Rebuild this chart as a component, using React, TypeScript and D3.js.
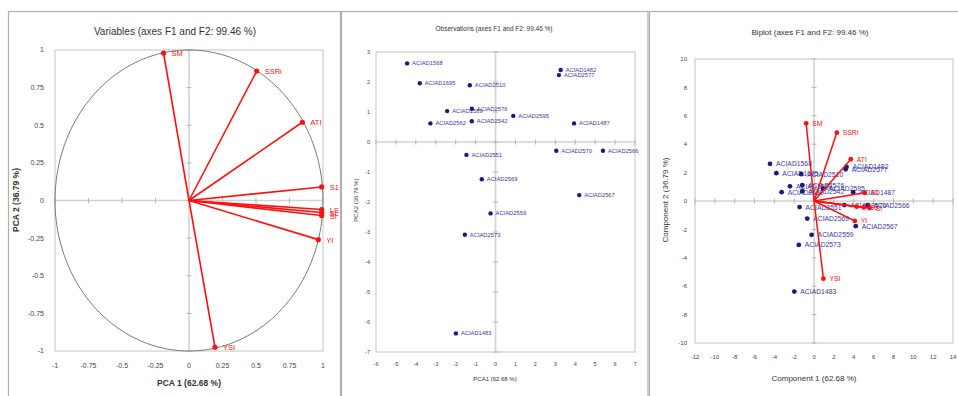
import React from "react";
import * as d3 from "d3";

// ---------- data ----------
const varNames = ["SM", "SSRi", "ATI", "S1", "LS", "SL", "SI", "YI", "YSI"];
const varF1 = [-0.19, 0.505, 0.846, 0.99, 0.99, 0.99, 0.99, 0.965, 0.194];
const varF2 = [0.98, 0.86, 0.52, 0.09, -0.06, -0.08, -0.1, -0.26, -0.975];

const obsNames = [
  "ACIAD1568", "ACIAD1695", "ACIAD2510", "ACIAD1589", "ACIAD2576", "ACIAD2562",
  "ACIAD2542", "ACIAD2595", "ACIAD1482", "ACIAD2577", "ACIAD1487", "ACIAD2570",
  "ACIAD2566", "ACIAD2551", "ACIAD2569", "ACIAD2567", "ACIAD2559", "ACIAD2573",
  "ACIAD1483",
];
const obsF1 = [-4.44, -3.8, -1.29, -2.43, -1.19, -3.27, -1.19, 0.89, 3.27, 3.18, 3.94, 3.05, 5.39, -1.46, -0.69, 4.2, -0.25, -1.54, -1.99];
const obsF2 = [2.62, 1.96, 1.89, 1.03, 1.11, 0.62, 0.69, 0.87, 2.4, 2.23, 0.62, -0.29, -0.29, -0.43, -1.24, -1.77, -2.38, -3.09, -6.38];

// biplot vector ends
const bipF1 = [-0.8, 2.29, 3.7, 5.1, 4.3, 5.0, 5.6, 4.1, 0.94];
const bipF2 = [5.47, 4.81, 2.94, 0.58, -0.4, -0.45, -0.5, -1.4, -5.47];

const ticks1 = [-1, -0.75, -0.5, -0.25, 0, 0.25, 0.5, 0.75, 1];
const ticks2X = [-6, -5, -4, -3, -2, -1, 0, 1, 2, 3, 4, 5, 6, 7];
const ticks2Y = [-7, -6, -5, -4, -3, -2, -1, 0, 1, 2, 3];
const ticks3X = [-12, -10, -8, -6, -4, -2, 0, 2, 4, 6, 8, 10, 12, 14];
const ticks3Y = [-10, -8, -6, -4, -2, 0, 2, 4, 6, 8, 10];

// ---------- style ----------
const FONT = "'Liberation Sans', Arial, sans-serif";
const RED = "#ff1010";
const NAVY = "#1a1a80";
const GRID = "#d2d2d2";
const FRAME = "#c4c4c4";
const TXT = "#333";

type AxisProps = {
  x: d3.ScaleLinear<number, number>;
  y: d3.ScaleLinear<number, number>;
  xt: number[];
  yt: number[];
  fs: number;
  xLabY: number;
  yLabX: number;
};

function Axes({ x, y, xt, yt, fs, xLabY, yLabX }: AxisProps) {
  const [l, r] = x.range();
  const [b, t] = y.range();
  return (
    <g>
      <rect x={l} y={t} width={r - l} height={b - t} fill="white" stroke={FRAME} strokeWidth={1} />
      <line x1={l} x2={r} y1={y(0)} y2={y(0)} stroke={GRID} strokeWidth={1.6} />
      <line x1={x(0)} x2={x(0)} y1={t} y2={b} stroke={GRID} strokeWidth={1.6} />
      {xt.map((v) => (
        <g key={"xt" + v}>
          <line x1={x(v)} x2={x(v)} y1={y(0) - 2.5} y2={y(0) + 2.5} stroke="#b5b5b5" strokeWidth={1} />
          <text x={x(v)} y={xLabY} fontSize={fs} textAnchor="middle" fill="#444" fontFamily={FONT}>
            {String(v)}
          </text>
        </g>
      ))}
      {yt.map((v) => (
        <g key={"yt" + v}>
          <line x1={x(0) - 2.5} x2={x(0) + 2.5} y1={y(v)} y2={y(v)} stroke="#b5b5b5" strokeWidth={1} />
          <text x={yLabX} y={y(v) + fs * 0.35} fontSize={fs} textAnchor="end" fill="#444" fontFamily={FONT}>
            {String(v)}
          </text>
        </g>
      ))}
    </g>
  );
}

export default function App() {
  // Panel 1: variables
  const x1 = d3.scaleLinear().domain([-1, 1]).range([55, 323]);
  const y1 = d3.scaleLinear().domain([-1, 1]).range([351, 50]);
  // Panel 2: observations
  const x2 = d3.scaleLinear().domain([-6, 7]).range([376, 635]);
  const y2 = d3.scaleLinear().domain([-7, 3]).range([352, 52]);
  // Panel 3: biplot
  const x3 = d3.scaleLinear().domain([-12, 14]).range([695, 953]);
  const y3 = d3.scaleLinear().domain([-10, 10]).range([343, 59]);

  const circle = d3.range(0, 361, 2).map((a) => [Math.cos((a * Math.PI) / 180), Math.sin((a * Math.PI) / 180)]);
  const circlePath = d3.line<number[]>().x((d) => x1(d[0])).y((d) => y1(d[1]))(circle) || "";

  return (
    <svg width={958} height={396} style={{ position: "absolute", left: 0, top: 0, background: "white" }}>
      <rect x={0} y={0} width={958} height={396} fill="white" />
      {/* panel frames */}
      <rect x={8.5} y={11.5} width={332} height={400} fill="white" stroke="#b0b0b0" strokeWidth={1.2} />
      <rect x={341.5} y={11.5} width={306.5} height={400} fill="white" stroke="#b0b0b0" strokeWidth={1.2} />
      <rect x={649.5} y={11.5} width={320} height={400} fill="white" stroke="#b0b0b0" strokeWidth={1.2} />

      {/* ===== Panel 1 ===== */}
      <text x={175} y={35} fontSize={10} textAnchor="middle" fill={TXT} fontFamily={FONT}>
        Variables (axes F1 and F2: 99.46 %)
      </text>
      <Axes x={x1} y={y1} xt={ticks1} yt={ticks1} fs={7} xLabY={368} yLabX={44} />
      <path d={circlePath} fill="none" stroke="#7a7a7a" strokeWidth={1} />
      {varNames.map((n, i) => (
        <g key={"v" + n}>
          <line x1={x1(0)} y1={y1(0)} x2={x1(varF1[i])} y2={y1(varF2[i])} stroke={RED} strokeWidth={1.6} />
          <circle cx={x1(varF1[i])} cy={y1(varF2[i])} r={2.6} fill={RED} />
          <text x={x1(varF1[i]) + 8} y={y1(varF2[i]) + 3} fontSize={7.5} fill={RED} fontFamily={FONT}>
            {n}
          </text>
        </g>
      ))}
      <text x={189} y={386} fontSize={8.5} textAnchor="middle" fill={TXT} fontFamily={FONT} fontWeight="bold">
        PCA 1 (62.68 %)
      </text>
      <text transform="translate(19,200) rotate(-90)" fontSize={8.5} textAnchor="middle" fill={TXT} fontFamily={FONT} fontWeight="bold">
        PCA 2 (36.79 %)
      </text>

      {/* ===== Panel 2 ===== */}
      <text x={494} y={31} fontSize={6.5} textAnchor="middle" fill={TXT} fontFamily={FONT}>
        Observations (axes F1 and F2: 99.46 %)
      </text>
      <Axes x={x2} y={y2} xt={ticks2X} yt={ticks2Y} fs={5.5} xLabY={366} yLabX={370} />
      {obsNames.map((n, i) => (
        <g key={"o" + n}>
          <circle cx={x2(obsF1[i])} cy={y2(obsF2[i])} r={2.2} fill={NAVY} />
          <text x={x2(obsF1[i]) + 5} y={y2(obsF2[i]) + 2} fontSize={5.8} fill="#3a3aa0" fontFamily={FONT}>
            {n}
          </text>
        </g>
      ))}
      <text x={495} y={381} fontSize={6} textAnchor="middle" fill={TXT} fontFamily={FONT}>
        PCA1 (62.68 %)
      </text>
      <text transform="translate(358,200) rotate(-90)" fontSize={6} textAnchor="middle" fill={TXT} fontFamily={FONT}>
        PCA2 (36.79 %)
      </text>

      {/* ===== Panel 3 ===== */}
      <text x={810} y={35} fontSize={8} textAnchor="middle" fill={TXT} fontFamily={FONT}>
        Biplot (axes F1 and F2: 99.46 %)
      </text>
      <Axes x={x3} y={y3} xt={ticks3X} yt={ticks3Y} fs={6} xLabY={359} yLabX={687} />
      {obsNames.map((n, i) => (
        <g key={"b" + n}>
          <circle cx={x3(obsF1[i])} cy={y3(obsF2[i])} r={2.4} fill={NAVY} />
          <text x={x3(obsF1[i]) + 6} y={y3(obsF2[i]) + 2.5} fontSize={6.8} fill="#3a3aa0" fontFamily={FONT}>
            {n}
          </text>
        </g>
      ))}
      {varNames.map((n, i) => (
        <g key={"bv" + n}>
          <line x1={x3(0)} y1={y3(0)} x2={x3(bipF1[i])} y2={y3(bipF2[i])} stroke={RED} strokeWidth={1.5} />
          <circle cx={x3(bipF1[i])} cy={y3(bipF2[i])} r={2.4} fill={RED} />
          <text x={x3(bipF1[i]) + 6} y={y3(bipF2[i]) + 2.5} fontSize={6.8} fill={RED} fontFamily={FONT}>
            {n}
          </text>
        </g>
      ))}
      <text x={814} y={381} fontSize={8} textAnchor="middle" fill={TXT} fontFamily={FONT}>
        Component 1 (62.68 %)
      </text>
      <text transform="translate(668,200) rotate(-90)" fontSize={8} textAnchor="middle" fill={TXT} fontFamily={FONT}>
        Component 2 (36.79 %)
      </text>
    </svg>
  );
}
